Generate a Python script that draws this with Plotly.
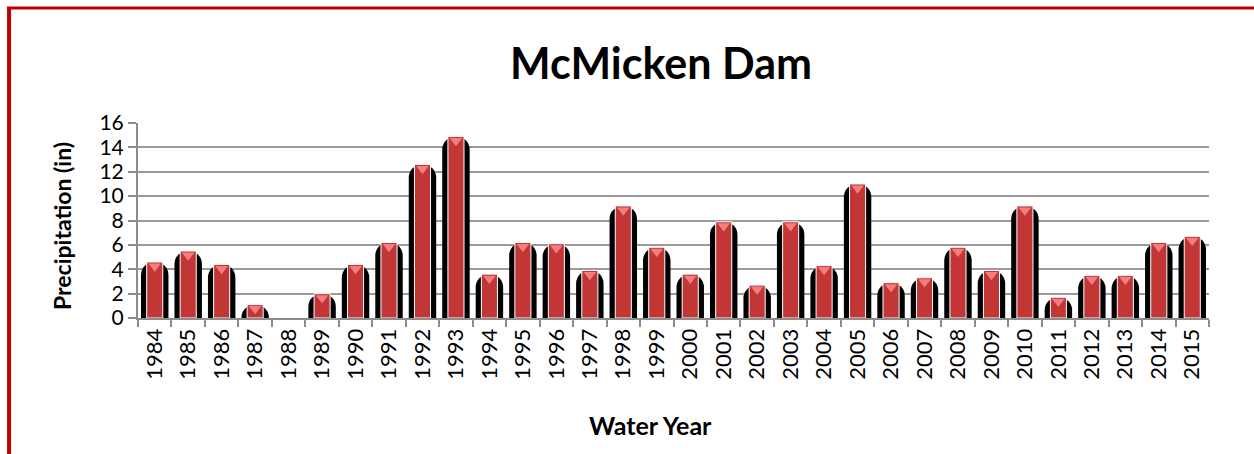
import plotly.graph_objects as go

years = [str(y) for y in range(1984, 2016)]
precip = [4.6, 5.5, 4.4, 1.1, 0.0, 2.0, 4.4, 6.2, 12.6, 14.9,
          3.6, 6.2, 6.1, 3.9, 9.2, 5.8, 3.6, 7.9, 2.7, 7.9,
          4.3, 11.0, 2.9, 3.3, 5.8, 3.9, 9.2, 1.7, 3.5, 3.5,
          6.2, 6.7]
title_text = "McMicken Dam"
x_title = "Water Year"
y_title = "Precipitation (in)"
y_ticks = [0, 2, 4, 6, 8, 10, 12, 14, 16]

FONT = "Lato"
tri_y = [v - 0.35 if v > 0 else None for v in precip]

fig = go.Figure()
fig.add_trace(go.Bar(x=years, y=precip, width=0.82,
                     marker=dict(color="#000000", cornerradius=13, line=dict(width=0)),
                     hoverinfo="skip"))
fig.add_trace(go.Bar(x=years, y=precip, width=0.48,
                     marker=dict(color="#c23636", line=dict(color="#ffffff", width=1)),
                     hoverinfo="skip"))
fig.add_trace(go.Scatter(x=years, y=tri_y, mode="markers",
                         marker=dict(symbol="triangle-down", size=11, color="#f47e7e",
                                     line=dict(width=0)),
                         hoverinfo="skip"))

fig.update_layout(
    width=1254, height=454,
    barmode="overlay",
    showlegend=False,
    paper_bgcolor="#ffffff",
    plot_bgcolor="#ffffff",
    margin=dict(l=138, r=45, t=123, b=136),
    title=dict(text="<b>" + title_text + "</b>", x=661 / 1254, xanchor="center",
               y=1 - 64 / 454, yanchor="middle", yref="container",
               font=dict(family=FONT, size=43, color="#000000")),
    font=dict(family=FONT, color="#000000"),
    xaxis=dict(type="category", range=[-0.5, 31.5], showgrid=False, showline=True,
               linecolor="#8c8c8c", automargin=False,
               linewidth=2, ticks="outside", tickson="boundaries", ticklen=7,
               tickcolor="#8c8c8c", tickwidth=2, tickangle=-90,
               tickfont=dict(family=FONT, size=22, color="#000000")),
    yaxis=dict(range=[0, 16], tickvals=y_ticks, showgrid=True, gridcolor="#9a9a9a",
               gridwidth=2, showline=True, linecolor="#8c8c8c", linewidth=2,
               ticks="outside", ticklen=8, tickcolor="#8c8c8c", tickwidth=2,
               zeroline=False, automargin=False,
               tickfont=dict(family=FONT, size=21, color="#000000")),
    annotations=[
        dict(text="<b>" + x_title + "</b>", xref="paper", yref="paper",
             x=(650 - 138) / 1071, y=(318 - 425) / 195, xanchor="center", yanchor="middle",
             showarrow=False, font=dict(family=FONT, size=25, color="#000000")),
        dict(text="<b>" + y_title + "</b>", xref="paper", yref="paper",
             x=(62 - 138) / 1071, y=(318 - 226) / 195, xanchor="center", yanchor="middle",
             textangle=-90, showarrow=False,
             font=dict(family=FONT, size=23, color="#000000")),
    ],
    shapes=[
        dict(type="line", xref="paper", yref="paper", x0=-0.1204, x1=-0.1204,
             y0=1.595, y1=-0.75, line=dict(color="#c00000", width=4)),
        dict(type="line", xref="paper", yref="paper", x0=-0.1223, x1=1.06,
             y0=1.590, y1=1.590, line=dict(color="#c00000", width=3)),
    ],
)

fig.write_html("out.html", config={"displayModeBar": False},
               post_script="document.body.style.margin='0';document.body.style.overflow='hidden';")
